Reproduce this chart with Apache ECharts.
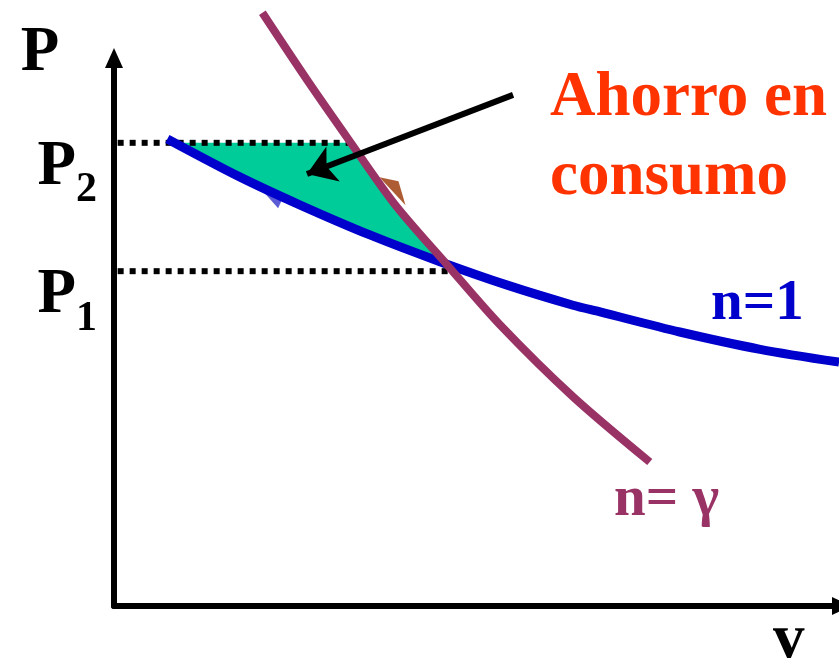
<!DOCTYPE html>
<html>
<head>
<meta charset="utf-8">
<script src="https://cdn.jsdelivr.net/npm/echarts@6/dist/echarts.min.js"></script>
<style>
html,body{margin:0;padding:0;background:#fff;}
#chart{width:839px;height:661px;}
</style>
</head>
<body>
<div id="chart"></div>
<script>
// ---- data (arbitrary units) ----
const vIso = [0.73, 1.72, 2.54, 3.50, 4.46, 5.38, 6.28, 6.65, 7.74, 8.84, 9.92];
const pIso = [8.37, 7.69, 7.19, 6.65, 6.17, 5.75, 5.39, 5.27, 4.91, 4.60, 4.37];
const vAdi = [2.03, 2.64, 3.23, 3.84, 4.56, 5.28, 6.28, 7.33];
const pAdi = [10.63, 9.43, 8.32, 7.20, 6.11, 5.04, 3.75, 2.58];
const tickValues = [6.00, 8.30];        // P1, P2
const tickSubs = ['1', '2'];
const levelStart = 0.05;
const levelEnds = [4.62, 3.30];         // end of the P1 / P2 dotted lines
const arrowFrom = [5.46, 9.16];
const arrowTo = [2.64, 7.74];
const isoMark = [2.17, 7.29];
const adiMark = [3.81, 7.43];
const vMax = 9.96, pMax = 9.82;

// ---- helpers ----
function interpAt(vs, ps, v) {
  for (let i = 0; i < vs.length - 1; i++) {
    if (v >= vs[i] && v <= vs[i + 1]) {
      const t = (v - vs[i]) / (vs[i + 1] - vs[i]);
      return ps[i] + t * (ps[i + 1] - ps[i]);
    }
  }
  return null;
}
function crossLevel(vs, ps, level) {
  for (let i = 0; i < vs.length - 1; i++) {
    if ((ps[i] - level) * (ps[i + 1] - level) <= 0) {
      return vs[i] + (ps[i] - level) / (ps[i] - ps[i + 1]) * (vs[i + 1] - vs[i]);
    }
  }
  return null;
}
function intersection() {
  for (let i = 0; i < vAdi.length - 1; i++) {
    const b0 = interpAt(vIso, pIso, vAdi[i]);
    const b1 = interpAt(vIso, pIso, vAdi[i + 1]);
    if (b0 === null || b1 === null) continue;
    const d0 = pAdi[i] - b0, d1 = pAdi[i + 1] - b1;
    if (d0 * d1 <= 0) {
      const t = d0 / (d0 - d1);
      const v = vAdi[i] + t * (vAdi[i + 1] - vAdi[i]);
      return [v, interpAt(vIso, pIso, v)];
    }
  }
  return null;
}
const P2 = tickValues[1];
const vIsoTop = crossLevel(vIso, pIso, P2);
const vAdiTop = crossLevel(vAdi, pAdi, P2);
const meet = intersection();
const fillPoly = [[vIsoTop, P2], [vAdiTop, P2]];
vAdi.forEach((v, i) => { if (v > vAdiTop && v < meet[0]) fillPoly.push([v, pAdi[i]]); });
fillPoly.push(meet);
for (let i = vIso.length - 1; i >= 0; i--) {
  if (vIso[i] > vIsoTop && vIso[i] < meet[0]) fillPoly.push([vIso[i], pIso[i]]);
}

const FONT = '"Liberation Serif", "Times New Roman", serif';
const chart = echarts.init(document.getElementById('chart'), null, {renderer: 'canvas'});

chart.setOption({
  animation: false,
  backgroundColor: '#ffffff',
  grid: {left: 114, right: -3, top: 58, bottom: 55, containLabel: false, outerBoundsMode: 'none'},
  xAxis: {
    type: 'value', min: 0, max: vMax,
    splitLine: {show: false}, axisTick: {show: false}, axisLabel: {show: false},
    axisLine: {show: true, lineStyle: {color: '#000', width: 6}, symbol: ['none', 'triangle'], symbolSize: [18, 20]},
    name: 'v', nameLocation: 'end', nameGap: -69, nameMoveOverlap: false,
    nameTextStyle: {fontFamily: FONT, fontWeight: 'bold', fontSize: 63, color: '#000', lineHeight: 70,
      align: 'left', verticalAlign: 'top'}
  },
  yAxis: {
    type: 'value', min: 0, max: pMax,
    splitLine: {show: false}, axisTick: {show: false},
    axisLine: {show: true, lineStyle: {color: '#000', width: 6}, symbol: ['none', 'triangle'], symbolSize: [18, 20]},
    axisLabel: {
      show: true, customValues: tickValues, margin: 17,
      padding: [50, 0, 0, 0],
      formatter: function (val) {
        const i = tickValues.indexOf(val);
        return '{p' + i + '|P}{s' + i + '|' + tickSubs[i] + '}';
      },
      rich: {
        p0: {fontFamily: FONT, fontWeight: 'bold', fontSize: 63, lineHeight: 63, color: '#000', verticalAlign: 'top', padding: [0, 0, 34, 0]},
        s0: {fontFamily: FONT, fontWeight: 'bold', fontSize: 42, lineHeight: 42, color: '#000', verticalAlign: 'top', padding: [33, 0, 34, 0]},
        p1: {fontFamily: FONT, fontWeight: 'bold', fontSize: 63, lineHeight: 63, color: '#000', verticalAlign: 'top'},
        s1: {fontFamily: FONT, fontWeight: 'bold', fontSize: 42, lineHeight: 42, color: '#000', verticalAlign: 'top', padding: [33, 0, 0, 0]}
      }
    },
    name: 'P', nameLocation: 'end', nameGap: -27, nameMoveOverlap: false,
    nameTextStyle: {fontFamily: FONT, fontWeight: 'bold', fontSize: 63, color: '#000', lineHeight: 63,
      align: 'center', verticalAlign: 'bottom', padding: [0, 148, 0, 0]}
  },
  series: [
    {
      type: 'custom', z: 1, silent: true,
      data: [[0, 0]],
      renderItem: function (params, api) {
        return {type: 'polygon', shape: {points: fillPoly.map(p => api.coord(p))}, style: {fill: '#00CC99'}};
      }
    },
    {
      type: 'line', z: 2, symbol: 'none', silent: true,
      data: [[levelStart, tickValues[1]], [levelEnds[1], tickValues[1]]],
      lineStyle: {color: '#000', width: 6, type: [6, 6], cap: 'butt'}
    },
    {
      type: 'line', z: 2, symbol: 'none', silent: true,
      data: [[levelStart, tickValues[0]], [levelEnds[0], tickValues[0]]],
      lineStyle: {color: '#000', width: 6, type: [6, 6], cap: 'butt'}
    },
    {
      type: 'scatter', z: 3, silent: true,
      data: [
        {value: isoMark, symbol: 'path://M262,190 L283,197 L278,208 Z', symbolSize: [21, 18], itemStyle: {color: '#3333CC'}},
        {value: adiMark, symbol: 'path://M378,177 L397,181 L404,205 Z', symbolSize: [26, 28], itemStyle: {color: '#993300'}}
      ]
    },
    {
      type: 'line', z: 4, symbol: 'none', silent: true, smooth: 0.3,
      data: vIso.map((v, i) => [v, pIso[i]]),
      lineStyle: {color: '#0000CC', width: 9}
    },
    {
      type: 'line', z: 5, symbol: 'none', silent: true, smooth: 0.3, clip: false,
      data: vAdi.map((v, i) => [v, pAdi[i]]),
      lineStyle: {color: '#993366', width: 8, cap: 'butt'}
    },
    {
      type: 'lines', coordinateSystem: 'cartesian2d', z: 6, silent: true,
      symbol: ['none', 'arrow'], symbolSize: 28,
      data: [{coords: [arrowFrom, arrowTo]}],
      lineStyle: {color: '#000', width: 6, opacity: 1}
    }
  ],
  graphic: [
    {type: 'text', x: 550, y: 59, silent: true,
      style: {text: 'Ahorro en\nconsumo', fill: '#FF3300', font: 'bold 63px ' + FONT, lineHeight: 79, align: 'left', verticalAlign: 'top'}},
    {type: 'text', x: 711, y: 276, silent: true,
      style: {text: 'n=1', fill: '#0000CC', font: 'bold 57px ' + FONT, lineHeight: 57, align: 'left', verticalAlign: 'top'}},
    {type: 'text', x: 614, y: 472, silent: true,
      style: {text: 'n= γ', fill: '#993366', font: 'bold 57px ' + FONT, lineHeight: 57, align: 'left', verticalAlign: 'top'}}
  ]
});
</script>
</body>
</html>
